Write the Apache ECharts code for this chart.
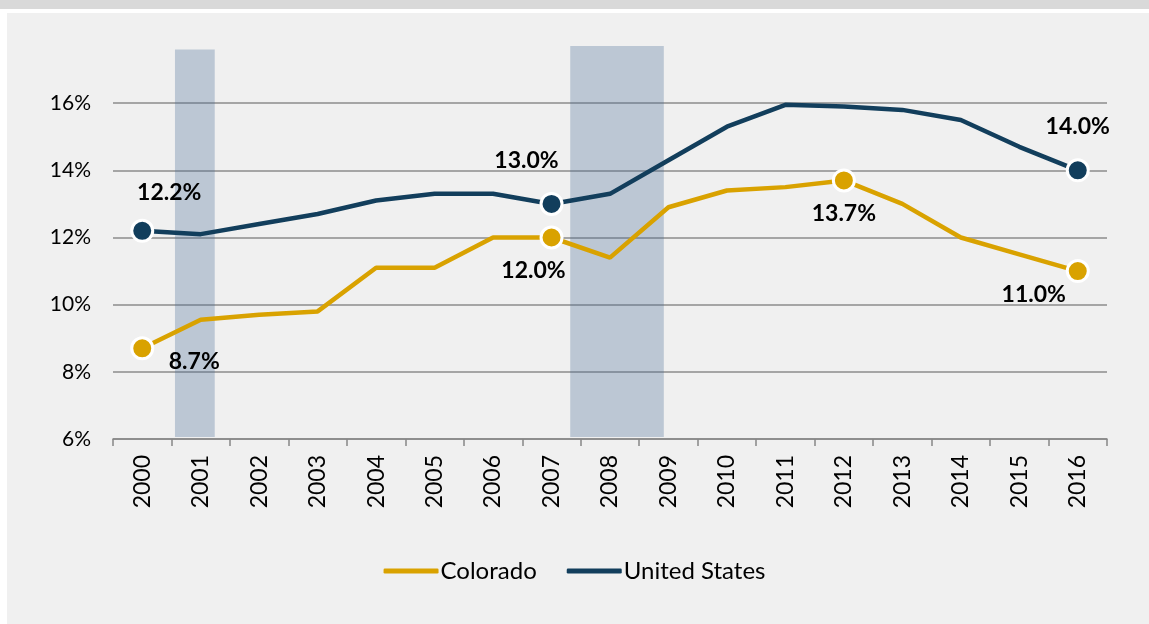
<!DOCTYPE html>
<html>
<head>
<meta charset="utf-8">
<script src="https://cdn.jsdelivr.net/npm/echarts@6/dist/echarts.min.js"></script>
<style>
  html, body { margin: 0; padding: 0; background: #f0f0f0; }
  #chart { width: 1149px; height: 624px; }
</style>
</head>
<body>
<div id="chart"></div>
<script>
const years = ['2000', '2001', '2002', '2003', '2004', '2005', '2006', '2007', '2008',
  '2009', '2010', '2011', '2012', '2013', '2014', '2015', '2016']
const colorado = [8.7, 9.55, 9.7, 9.8, 11.1, 11.1, 12.0, 12.0, 11.4, 12.9, 13.4, 13.5, 13.7, 13.0, 12.0, 11.5, 11.0]
const unitedStates = [12.2, 12.1, 12.4, 12.7, 13.1, 13.3, 13.3, 13.0, 13.3, 14.3, 15.3, 15.95, 15.9, 15.8, 15.5, 14.7, 14.0]
const yTicks = [6, 8, 10, 12, 14, 16]
// recession shading, in fractional years (start, end, top)
const recessions = [[2000.56, 2001.24, 17.6], [2007.32, 2008.92, 17.7]]
// highlighted points that carry a label
const coloradoMarks = [0, 7, 12, 16]
const usMarks = [0, 7, 16]

const gold = '#d9a200'
const navy = '#123e5c'
const font = 'Lato, "Noto Sans", sans-serif'

const chart = echarts.init(document.getElementById('chart'))

// label offsets from the point centre
const labelOffset = {
  co: { 0: [52, 13], 7: [-18, 33], 12: [0, 33], 16: [-44, 23] },
  us: { 0: [27, -38], 7: [-25, -43], 16: [0, -44] }
}

const markPoints = (values, idx, key, color) => idx.map(i => ({
  value: [i, values[i]],
  itemStyle: { color: color },
  label: { offset: labelOffset[key][i] }
}))

const markSeries = (name, data) => ({
  name: name,
  type: 'scatter',
  z: 4,
  symbolSize: 21,
  itemStyle: { borderColor: '#fff', borderWidth: 3, opacity: 1 },
  label: {
    show: true,
    position: 'inside',
    fontFamily: font,
    fontWeight: 'bold',
    fontSize: 23,
    color: '#000',
    formatter: p => p.value[1].toFixed(1) + '%'
  },
  data: data
})

const option = {
  backgroundColor: '#f0f0f0',
  animation: false,
  graphic: [
    { type: 'rect', shape: { x: 0, y: 0, width: 1149, height: 9 }, style: { fill: '#d9d9d9' }, silent: true },
    { type: 'rect', shape: { x: 0, y: 9, width: 1149, height: 4 }, style: { fill: '#ffffff' }, silent: true },
    { type: 'rect', shape: { x: 0, y: 9, width: 7, height: 615 }, style: { fill: '#ffffff' }, silent: true }
  ],
  grid: { left: 113, right: 42, top: 36, bottom: 185 },
  legend: {
    bottom: 36,
    left: 'center',
    itemWidth: 55,
    itemHeight: 5,
    itemGap: 30,
    icon: 'roundRect',
    textStyle: { fontFamily: font, fontSize: 24, color: '#000', padding: [0, 0, 0, -3] },
    data: [
      { name: 'Colorado', itemStyle: { color: gold } },
      { name: 'United States', itemStyle: { color: navy } }
    ]
  },
  xAxis: [
    {
      type: 'category',
      data: years,
      boundaryGap: true,
      axisLine: { lineStyle: { color: '#868686', width: 1.5 } },
      axisTick: { show: true, length: 7, lineStyle: { color: '#868686', width: 1.5 } },
      axisLabel: { rotate: 90, margin: 16, fontFamily: font, fontSize: 23, color: '#000' }
    },
    {
      type: 'value',
      min: 1999.5,
      max: 2016.5,
      show: false
    }
  ],
  yAxis: {
    type: 'value',
    min: 6,
    max: 18,
    interval: 2,
    axisLine: { show: false },
    axisTick: { show: false },
    splitLine: { showMaxLine: false, lineStyle: { color: '#8c8c8c', width: 1.5 } },
    axisLabel: {
      margin: 22,
      fontFamily: font,
      fontSize: 21,
      color: '#000',
      formatter: v => (yTicks.includes(v) ? v + '%' : '')
    }
  },
  series: [
    {
      name: 'Colorado',
      type: 'line',
      data: colorado,
      symbol: 'none',
      z: 2,
      lineStyle: { color: gold, width: 4.5 },
      itemStyle: { color: gold }
    },
    {
      name: 'United States',
      type: 'line',
      data: unitedStates,
      symbol: 'none',
      z: 2,
      lineStyle: { color: navy, width: 4.5 },
      itemStyle: { color: navy }
    },
    {
      name: 'recession',
      type: 'line',
      xAxisIndex: 1,
      data: [],
      z: 3,
      silent: true,
      markArea: {
        silent: true,
        itemStyle: { color: 'rgba(70, 105, 150, 0.3)' },
        data: recessions.map(r => [
          { xAxis: r[0], yAxis: 6.06 },
          { xAxis: r[1], yAxis: r[2] }
        ])
      }
    },
    markSeries('coMarks', markPoints(colorado, coloradoMarks, 'co', gold)),
    markSeries('usMarks', markPoints(unitedStates, usMarks, 'us', navy))
  ]
}

chart.setOption(option)
</script>
</body>
</html>
